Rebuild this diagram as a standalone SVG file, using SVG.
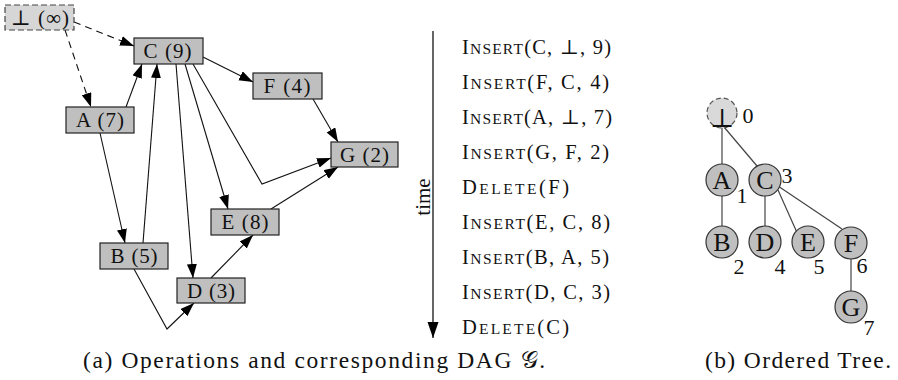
<svg xmlns="http://www.w3.org/2000/svg" width="898" height="380" viewBox="0 0 898 380" font-family="'Liberation Serif', 'Times New Roman', 'DejaVu Serif', serif">
  <style>
    text { font-family: "Liberation Serif", "Times New Roman", "DejaVu Serif", serif; fill: #111; }
    .box { fill: #bfbfbf; stroke: #222; stroke-width: 1.2; }
    .root-box { fill: #d6d6d6; stroke: #444; stroke-width: 1.2; stroke-dasharray: 6 3; }
    .lbl { font-size: 21px; text-anchor: middle; }
    .edge { fill: none; stroke: #111; stroke-width: 1.1; marker-end: url(#arrow); }
    .dashed { stroke-dasharray: 7 5; }
    .op { font-size: 20.5px; }
    .sc { font-size: 15.5px; }
    .tnode { fill: #bfbfbf; stroke: #333; stroke-width: 1.2; }
    .troot { fill: #d9d9d9; stroke: #555; stroke-width: 1.2; stroke-dasharray: 5 3; }
    .tedge { stroke: #444; stroke-width: 1.2; fill: none; }
    .tl { font-size: 26px; text-anchor: middle; }
    .num { font-size: 22px; text-anchor: middle; }
    .cap { font-size: 23.5px; }
  </style>
  <defs>
    <marker id="arrow" markerUnits="userSpaceOnUse" markerWidth="15" markerHeight="11" refX="14" refY="5" orient="auto">
      <path d="M0,0 L14,5 L0,10 z" fill="#000"/>
    </marker>
    <marker id="time-head" markerUnits="userSpaceOnUse" markerWidth="17" markerHeight="12" refX="16" refY="5.5" orient="auto">
      <path d="M0,0 L16,5.5 L0,11 z" fill="#000"/>
    </marker>
  </defs>

  <!-- DAG connectors -->
  <g id="dag-edges">
    <line class="edge dashed" x1="74" y1="22" x2="134" y2="46"/>
    <line class="edge dashed" x1="65" y1="30" x2="91" y2="107"/>
    <line class="edge" x1="126" y1="107" x2="142" y2="64"/>
    <line class="edge" x1="203" y1="57" x2="253" y2="82"/>
    <line class="edge" x1="313" y1="99" x2="338" y2="142"/>
    <polyline class="edge" points="193,64 262,184 331,158"/>
    <line class="edge" x1="185" y1="64" x2="228" y2="209"/>
    <line class="edge" x1="176" y1="64" x2="193" y2="278"/>
    <line class="edge" x1="100" y1="133" x2="125" y2="243"/>
    <line class="edge" x1="143" y1="243" x2="157" y2="64"/>
    <line class="edge" x1="271" y1="209" x2="338" y2="167"/>
    <polyline class="edge" points="134,269 167,329 194,303"/>
    <line class="edge" x1="211" y1="278" x2="253" y2="235"/>
  </g>

  <!-- DAG nodes -->
  <g id="dag-root">
    <rect class="root-box" x="5" y="5" width="69" height="25"/>
    <text class="lbl" x="40" y="25" textLength="58">⊥ (∞)</text>
  </g>
  <g id="dag-C">
    <rect class="box" x="134" y="38" width="69" height="26"/>
    <text class="lbl" x="167.5" y="58" textLength="48">C (9)</text>
  </g>
  <g id="dag-F">
    <rect class="box" x="253" y="73" width="69" height="26"/>
    <text class="lbl" x="287" y="93" textLength="47">F (4)</text>
  </g>
  <g id="dag-A">
    <rect class="box" x="66" y="107" width="68" height="26"/>
    <text class="lbl" x="100" y="127" textLength="48">A (7)</text>
  </g>
  <g id="dag-G">
    <rect class="box" x="331" y="142" width="67" height="25"/>
    <text class="lbl" x="364.5" y="162" textLength="49">G (2)</text>
  </g>
  <g id="dag-E">
    <rect class="box" x="211" y="209" width="68" height="26"/>
    <text class="lbl" x="245" y="229" textLength="47">E (8)</text>
  </g>
  <g id="dag-B">
    <rect class="box" x="100" y="243" width="68" height="26"/>
    <text class="lbl" x="134" y="263" textLength="47">B (5)</text>
  </g>
  <g id="dag-D">
    <rect class="box" x="177" y="278" width="68" height="25"/>
    <text class="lbl" x="211" y="298" textLength="48">D (3)</text>
  </g>

  <!-- time axis -->
  <g id="timeline">
    <line x1="433" y1="31" x2="433" y2="338" stroke="#000" stroke-width="1.2" marker-end="url(#time-head)"/>
    <text transform="translate(430,197) rotate(-90)" font-size="21" text-anchor="middle">time</text>
  </g>

  <!-- operation log -->
  <g id="operations" class="op">
    <text x="462" y="54" textLength="149"><tspan>I</tspan><tspan class="sc">NSERT</tspan>(C, ⊥, 9)</text>
    <text x="462" y="89" textLength="147"><tspan>I</tspan><tspan class="sc">NSERT</tspan>(F, C, 4)</text>
    <text x="462" y="124" textLength="150"><tspan>I</tspan><tspan class="sc">NSERT</tspan>(A, ⊥, 7)</text>
    <text x="462" y="159" textLength="147"><tspan>I</tspan><tspan class="sc">NSERT</tspan>(G, F, 2)</text>
    <text x="462" y="194" textLength="107"><tspan>D</tspan><tspan class="sc">ELETE</tspan>(F)</text>
    <text x="462" y="229" textLength="148"><tspan>I</tspan><tspan class="sc">NSERT</tspan>(E, C, 8)</text>
    <text x="462" y="264" textLength="147"><tspan>I</tspan><tspan class="sc">NSERT</tspan>(B, A, 5)</text>
    <text x="462" y="299" textLength="148"><tspan>I</tspan><tspan class="sc">NSERT</tspan>(D, C, 3)</text>
    <text x="462" y="334" textLength="107"><tspan>D</tspan><tspan class="sc">ELETE</tspan>(C)</text>
  </g>

  <!-- ordered tree connectors -->
  <g id="tree-edges" class="tedge">
    <line x1="722" y1="113" x2="722" y2="180"/>
    <line x1="724" y1="127" x2="757" y2="166"/>
    <line x1="722" y1="180" x2="722" y2="242"/>
    <line x1="765" y1="180" x2="765" y2="242"/>
    <line x1="778" y1="190" x2="799" y2="237"/>
    <line x1="778" y1="186" x2="842" y2="229"/>
    <line x1="851" y1="243" x2="851" y2="307"/>
  </g>

  <!-- ordered tree nodes -->
  <g id="tree-root">
    <circle class="troot" cx="722" cy="113" r="15"/>
    <text class="tl" x="722" y="127">⊥</text>
    <text class="num" x="748" y="123">0</text>
  </g>
  <g id="tree-A">
    <circle class="tnode" cx="722" cy="180" r="16"/>
    <text class="tl" x="722" y="189">A</text>
    <text class="num" x="742" y="203">1</text>
  </g>
  <g id="tree-C">
    <circle class="tnode" cx="765" cy="180" r="16"/>
    <text class="tl" x="765" y="189">C</text>
    <text class="num" x="787" y="183">3</text>
  </g>
  <g id="tree-B">
    <circle class="tnode" cx="722" cy="242" r="16"/>
    <text class="tl" x="722" y="251">B</text>
    <text class="num" x="739" y="274">2</text>
  </g>
  <g id="tree-D">
    <circle class="tnode" cx="765" cy="242" r="16"/>
    <text class="tl" x="765" y="251">D</text>
    <text class="num" x="780" y="274">4</text>
  </g>
  <g id="tree-E">
    <circle class="tnode" cx="808" cy="242" r="16"/>
    <text class="tl" x="808" y="251">E</text>
    <text class="num" x="819" y="274">5</text>
  </g>
  <g id="tree-F">
    <circle class="tnode" cx="851" cy="243" r="16"/>
    <text class="tl" x="851" y="252">F</text>
    <text class="num" x="862" y="273">6</text>
  </g>
  <g id="tree-G">
    <circle class="tnode" cx="851" cy="307" r="16"/>
    <text class="tl" x="851" y="316">G</text>
    <text class="num" x="869" y="335">7</text>
  </g>

  <!-- captions -->
  <text class="cap" x="83" y="368" textLength="462">(a) Operations and corresponding DAG 𝒢.</text>
  <text class="cap" x="705" y="368" textLength="186">(b) Ordered Tree.</text>
</svg>
